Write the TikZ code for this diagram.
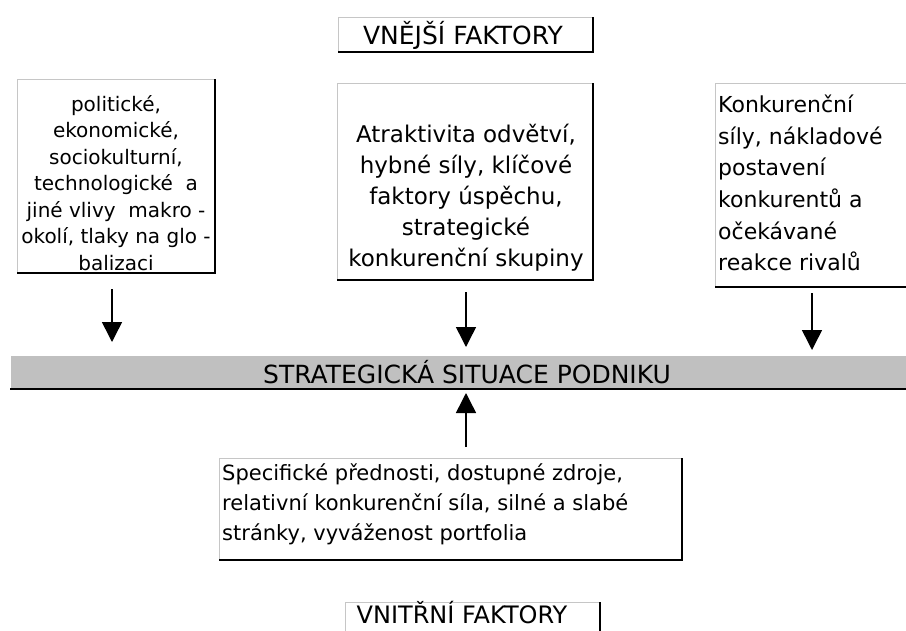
\documentclass[tikz,border=0pt]{standalone}
\usepackage{fontspec}
\setmainfont{DejaVu Sans}
\usetikzlibrary{arrows.meta}

% raised 3D frame: light top/left edges, dark bottom/right edges
\newcommand\raisedframe[2][gray!45]{%
  \draw[#1,line width=1pt] (#2.south west) |- (#2.north east);
  \draw[black,line width=1.8pt] (#2.south west) -| (#2.north east);
}

\begin{document}
\begin{tikzpicture}[x=1pt,y=-1pt,
  panel/.style={rectangle,fill=white,inner sep=0pt,outer sep=0pt,anchor=north west},
  label/.style={inner sep=0pt,text=black},
  arr/.style={line width=1.5pt,-{Triangle[width=20pt,length=20pt]}}]

\useasboundingbox (0,0) rectangle (906,630);
\clip (0,0) rectangle (906,630);
\fill[white] (0,0) rectangle (906,630);

% --- boxes ---
\node[panel,minimum width=255pt,minimum height=35pt] (ext) at (338,17) {};
\node[panel,minimum width=198pt,minimum height=194pt] (pol) at (17,79) {};
\node[panel,minimum width=256pt,minimum height=197pt] (atr) at (337,83) {};
\node[panel,minimum width=200pt,minimum height=204pt] (konk) at (715,83) {};
\node[panel,fill={rgb,255:red,192;green,192;blue,192},minimum width=910pt,minimum height=34pt] (bar) at (10,355) {};
\node[panel,minimum width=463pt,minimum height=102pt] (spec) at (219,458) {};
\node[panel,minimum width=255pt,minimum height=40pt] (int) at (345,602) {};

\raisedframe{ext}
\raisedframe{pol}
\raisedframe{atr}
\raisedframe{konk}
\raisedframe[white]{bar}
\raisedframe{spec}
\raisedframe{int}

% --- texts ---
\node[label,font=\fontsize{25}{30}\selectfont] (extT) at (463,35) {VNĚJŠÍ FAKTORY};
\node[label,align=center,font=\fontsize{20}{26.5}\selectfont] (polT) at (116,183)
  {politické,\\ekonomické,\\sociokulturní,\\technologické \ a\\jiné vlivy \ makro -\\okolí, tlaky na glo -\\balizaci};
\node[label,align=center,font=\fontsize{23}{31}\selectfont] (atrT) at (466,198)
  {Atraktivita odvětví,\\hybné síly, klíčové\\faktory úspěchu,\\strategické\\konkurenční skupiny};
\node[label,align=left,anchor=west,font=\fontsize{22}{31.6}\selectfont] (konkT) at (718,183)
  {Konkurenční\\síly, nákladové\\postavení\\konkurentů a\\očekávané\\reakce rivalů};
\node[label,font=\fontsize{25}{30}\selectfont] (barT) at (467,372) {STRATEGICKÁ SITUACE PODNIKU};
\node[label,align=left,anchor=west,font=\fontsize{21}{30}\selectfont] (specT) at (222,504)
  {Specifické přednosti, dostupné zdroje,\\relativní konkurenční síla, silné a slabé\\stránky, vyváženost portfolia};
\node[label,font=\fontsize{24}{30}\selectfont] (intT) at (462,613) {VNITŘNÍ FAKTORY};

% --- connectors ---
\coordinate (p1) at (112,289);
\coordinate (p2) at (112,342);
\coordinate (m1) at (466,292);
\coordinate (m2) at (466,347);
\coordinate (k1) at (812,293);
\coordinate (k2) at (812,350);
\coordinate (s1) at (466,447);
\coordinate (s2) at (466,393);
\draw[arr] (p1) -- (p2);
\draw[arr] (m1) -- (m2);
\draw[arr] (k1) -- (k2);
\draw[arr] (s1) -- (s2);
\end{tikzpicture}
\end{document}
